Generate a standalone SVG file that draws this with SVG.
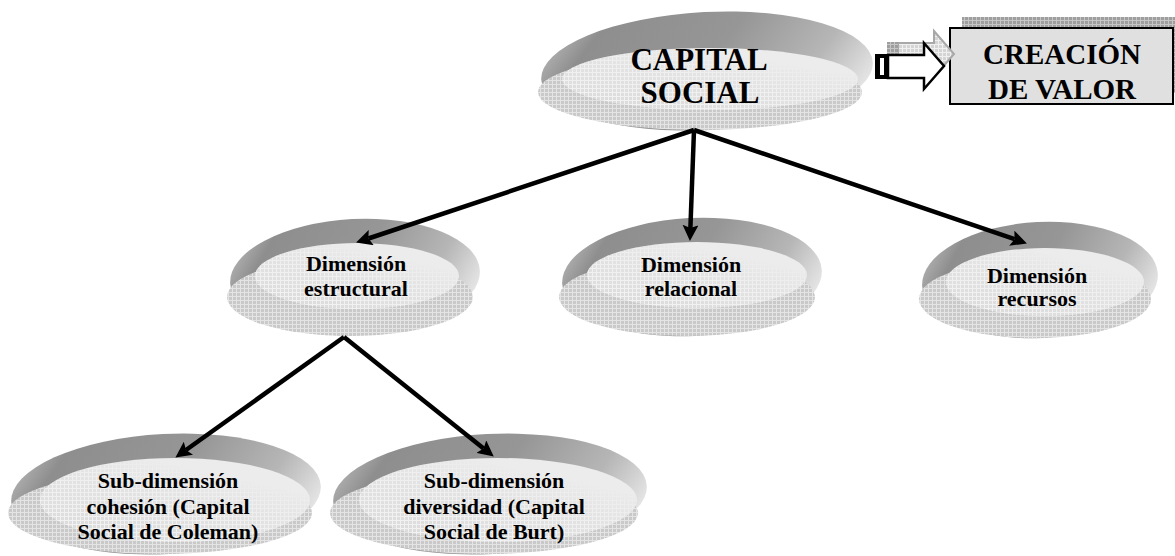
<svg xmlns="http://www.w3.org/2000/svg" width="1175" height="556" viewBox="0 0 1175 556">
  <defs>
    <!-- checked fill used on the underside of the discs -->
    <pattern id="grid" width="4" height="4" patternUnits="userSpaceOnUse">
      <rect width="4" height="4" fill="#c9c9c9"/>
      <path d="M0 0.5H4M0.5 0V4" stroke="#e4e4e4" stroke-width="1"/>
    </pattern>
    <pattern id="gridFaint" width="4" height="4" patternUnits="userSpaceOnUse">
      <rect width="4" height="4" fill="#d8d8d8"/>
      <path d="M0 0.5H4M0.5 0V4" stroke="#f3f3f3" stroke-width="1"/>
    </pattern>
    <pattern id="gridDark" width="4" height="4" patternUnits="userSpaceOnUse">
      <rect width="4" height="4" fill="#9e9e9e"/>
      <path d="M0 0.5H4M0.5 0V4" stroke="#c6c6c6" stroke-width="1"/>
    </pattern>
    <pattern id="gridLight" width="4" height="4" patternUnits="userSpaceOnUse">
      <rect width="4" height="4" fill="#d4d4d4"/>
      <path d="M0 0.5H4M0.5 0V4" stroke="#f0f0f0" stroke-width="1"/>
    </pattern>
    <!-- shaded rim of the discs -->
    <linearGradient id="rim" x1="0" y1="0.3" x2="1" y2="0.6">
      <stop offset="0" stop-color="#b4b4b4"/>
      <stop offset="0.12" stop-color="#8e8e8e"/>
      <stop offset="0.5" stop-color="#969696"/>
      <stop offset="0.8" stop-color="#b6b6b6"/>
      <stop offset="1" stop-color="#e6e6e6"/>
    </linearGradient>
    <linearGradient id="fadeLL" x1="0" y1="1" x2="0.6" y2="0.15">
      <stop offset="0" stop-color="#fff"/>
      <stop offset="0.45" stop-color="#fff" stop-opacity="0.6"/>
      <stop offset="1" stop-color="#000"/>
    </linearGradient>
    <mask id="faceMask" maskContentUnits="objectBoundingBox">
      <rect width="1" height="1" fill="url(#fadeLL)"/>
    </mask>
    <marker id="head" markerUnits="userSpaceOnUse" markerWidth="16" markerHeight="16" viewBox="0 0 16 16" refX="3" refY="8" orient="auto">
      <path d="M0,0 L16,8 L0,16 L3,8 Z" fill="#000"/>
    </marker>
  </defs>
  <style>
    .rim{fill:url(#rim)}
    .base{fill:url(#grid)}
    .face{fill:#ececec}
    .facegrid{fill:url(#gridFaint)}
    .lbl{fill:#000}
  </style>

  <rect width="1175" height="556" fill="#fff"/>

  <g id="capital-social" font-family="'Liberation Serif', 'DejaVu Serif', serif" font-weight="bold" text-anchor="middle" font-size="31">
    <ellipse class="rim" cx="707" cy="71" rx="166" ry="59" transform="rotate(-3 707 71)"/>
    <ellipse class="base" cx="700" cy="92" rx="162" ry="38"/>
    <ellipse class="face" cx="710" cy="79" rx="148" ry="31"/>
    <ellipse class="facegrid" cx="710" cy="79" rx="148" ry="31" mask="url(#faceMask)"/>
    <text class="lbl" x="699" y="70">CAPITAL</text>
    <text class="lbl" x="700" y="103">SOCIAL</text>
  </g>

  <g id="creacion-valor" font-family="'Liberation Serif', 'DejaVu Serif', serif" font-weight="bold" text-anchor="middle" font-size="29">
    <rect x="962" y="17" width="230" height="76" fill="url(#gridDark)"/>
    <rect x="950" y="28" width="223" height="76" fill="#e0e0e0" stroke="#000" stroke-width="2"/>
    <text class="lbl" x="1062" y="64">CREACIÓN</text>
    <text class="lbl" x="1062" y="99">DE VALOR</text>
  </g>

  <g id="block-arrow">
    <!-- offset grey copy behind -->
    <g transform="translate(10,-12)">
      <path d="M888,55 H924 V43 L944,66 L924,89 V78 H888 Z" fill="url(#gridLight)" stroke="#a8a8a8" stroke-width="2"/>
      <rect x="877" y="54" width="11" height="25" fill="url(#gridDark)"/>
    </g>
    <path d="M888,55 H924 V43 L944,66 L924,89 V78 H888 Z" fill="#fff" stroke="#000" stroke-width="2.5"/>
    <rect x="875" y="54" width="13" height="25" fill="#000"/>
    <rect x="880" y="58" width="4" height="17" fill="#fff"/>
  </g>

  <g id="dim-estructural" font-family="'Liberation Serif', 'DejaVu Serif', serif" font-weight="bold" text-anchor="middle" font-size="22">
    <ellipse class="rim" cx="355" cy="277" rx="125" ry="58" transform="rotate(-3 355 277)"/>
    <ellipse class="base" cx="350" cy="297" rx="123" ry="39"/>
    <ellipse class="face" cx="357" cy="276" rx="102" ry="33"/>
    <ellipse class="facegrid" cx="357" cy="276" rx="102" ry="33" mask="url(#faceMask)"/>
    <text class="lbl" x="356" y="271">Dimensión</text>
    <text class="lbl" x="356" y="296">estructural</text>
  </g>

  <g id="dim-relacional" font-family="'Liberation Serif', 'DejaVu Serif', serif" font-weight="bold" text-anchor="middle" font-size="22">
    <ellipse class="rim" cx="692" cy="277" rx="130" ry="59" transform="rotate(-3 692 277)"/>
    <ellipse class="base" cx="687" cy="297" rx="128" ry="39"/>
    <ellipse class="face" cx="697" cy="275" rx="110" ry="33"/>
    <ellipse class="facegrid" cx="697" cy="275" rx="110" ry="33" mask="url(#faceMask)"/>
    <text class="lbl" x="691" y="272">Dimensión</text>
    <text class="lbl" x="691" y="296">relacional</text>
  </g>

  <g id="dim-recursos" font-family="'Liberation Serif', 'DejaVu Serif', serif" font-weight="bold" text-anchor="middle" font-size="22">
    <ellipse class="rim" cx="1040" cy="280" rx="118" ry="58" transform="rotate(-3 1040 280)"/>
    <ellipse class="base" cx="1035" cy="299" rx="116" ry="39"/>
    <ellipse class="face" cx="1045" cy="282" rx="99" ry="34"/>
    <ellipse class="facegrid" cx="1045" cy="282" rx="99" ry="34" mask="url(#faceMask)"/>
    <text class="lbl" x="1037" y="283">Dimensión</text>
    <text class="lbl" x="1037" y="306">recursos</text>
  </g>

  <g id="sub-cohesion" font-family="'Liberation Serif', 'DejaVu Serif', serif" font-weight="bold" text-anchor="middle" font-size="22">
    <ellipse class="rim" cx="166" cy="494" rx="155" ry="60" transform="rotate(-3 166 494)"/>
    <ellipse class="base" cx="160" cy="513" rx="152" ry="41"/>
    <ellipse class="face" cx="175" cy="500" rx="135" ry="42"/>
    <ellipse class="facegrid" cx="175" cy="500" rx="135" ry="42" mask="url(#faceMask)"/>
    <text class="lbl" x="168" y="488">Sub-dimensión</text>
    <text class="lbl" x="168" y="514">cohesión (Capital</text>
    <text class="lbl" x="168" y="539">Social de Coleman)</text>
  </g>

  <g id="sub-diversidad" font-family="'Liberation Serif', 'DejaVu Serif', serif" font-weight="bold" text-anchor="middle" font-size="22">
    <ellipse class="rim" cx="490" cy="494" rx="157" ry="60" transform="rotate(-3 490 494)"/>
    <ellipse class="base" cx="484" cy="513" rx="154" ry="41"/>
    <ellipse class="face" cx="498" cy="500" rx="139" ry="42"/>
    <ellipse class="facegrid" cx="498" cy="500" rx="139" ry="42" mask="url(#faceMask)"/>
    <text class="lbl" x="494" y="488">Sub-dimensión</text>
    <text class="lbl" x="494" y="514">diversidad (Capital</text>
    <text class="lbl" x="494" y="539">Social de Burt)</text>
  </g>

  <!-- connectors, drawn over the discs so the heads stay visible -->
  <g id="connectors" stroke="#000" stroke-width="4.5" fill="none">
    <line x1="694" y1="130" x2="368.4" y2="238.5" marker-end="url(#head)"/>
    <line x1="694" y1="130" x2="690.4" y2="228" marker-end="url(#head)"/>
    <line x1="694" y1="130" x2="1014.6" y2="239.2" marker-end="url(#head)"/>
    <line x1="344" y1="337" x2="186" y2="450" marker-end="url(#head)"/>
    <line x1="344" y1="337" x2="483.6" y2="448.5" marker-end="url(#head)"/>
  </g>
</svg>
